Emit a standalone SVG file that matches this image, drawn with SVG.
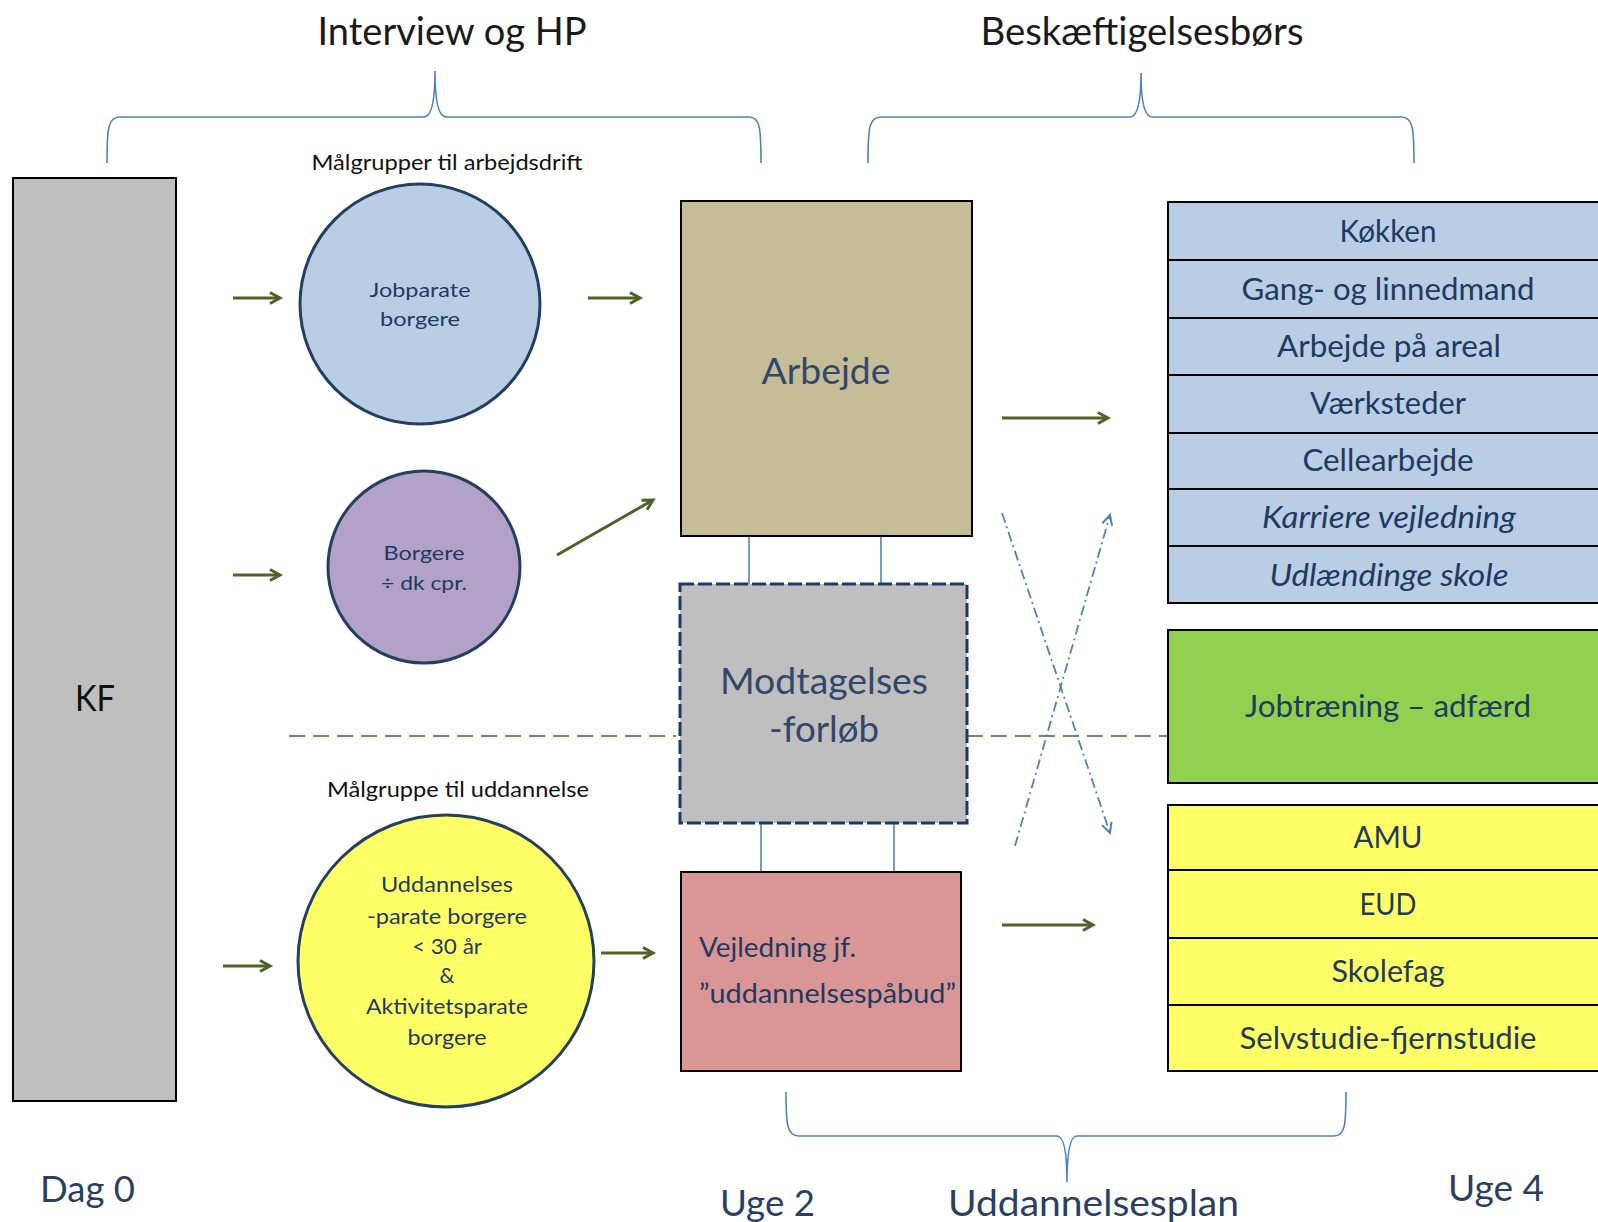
<svg xmlns="http://www.w3.org/2000/svg" width="1598" height="1222" viewBox="0 0 1598 1222">
<defs>
<style>
text{font-family:Lato,"Open Sans","Liberation Sans",sans-serif;}
.title{font-size:38px;fill:#1a1a1a;text-anchor:middle;}
.lab{font-size:21px;fill:#111;text-anchor:middle;}
.ct{font-size:20px;fill:#1f3a60;text-anchor:middle;}
.bt{font-size:36px;fill:#33476a;text-anchor:middle;}
.rt{font-size:30px;fill:#1f3a60;text-anchor:middle;}
.foot{font-size:36px;fill:#2a3f63;}
.brace{fill:none;stroke:#4f81bd;stroke-width:1.6;}
.garrow{stroke:#4f6228;stroke-width:3;fill:none;marker-end:url(#gh);}
.bline{stroke:#4f81bd;stroke-width:1.6;fill:none;}
.cross{stroke:#4f81bd;stroke-width:1.8;fill:none;stroke-dasharray:10 4 2 4;marker-end:url(#bh);}
.gdash{stroke:#4f6228;stroke-width:1.6;stroke-dasharray:16 8;fill:none;}
.box{stroke:#000;stroke-width:2;}
.circ{stroke:#243f60;stroke-width:3;}
</style>
<marker id="gh" markerUnits="userSpaceOnUse" markerWidth="16" markerHeight="16" refX="12" refY="7" orient="auto">
<path d="M2,1.5 L12,7 L2,12.5" fill="none" stroke="#4f6228" stroke-width="3"/>
</marker>
<marker id="bh" markerUnits="userSpaceOnUse" markerWidth="16" markerHeight="16" refX="12" refY="7" orient="auto">
<path d="M2,2 L12,7 L2,12" fill="none" stroke="#4f81bd" stroke-width="2"/>
</marker>
</defs>
<rect width="1598" height="1222" fill="#fff"/>

<g id="headers">
<text class="title" x="452" y="45" textLength="269" lengthAdjust="spacingAndGlyphs">Interview og HP</text>
<text class="title" x="1142" y="45" textLength="323" lengthAdjust="spacingAndGlyphs">Beskæftigelsesbørs</text>
<text class="lab" x="447" y="170" textLength="271" lengthAdjust="spacingAndGlyphs">Målgrupper til arbejdsdrift</text>
<text class="lab" x="458" y="797" textLength="262" lengthAdjust="spacingAndGlyphs">Målgruppe til uddannelse</text>
</g>

<g id="braces">
<path class="brace" d="M107,163 C107,128 108,117 120,117 L424,117 C431,117 435,102 435,71 C435,102 439,117 446,117 L749,117 C760,117 761,128 761,163"/>
<path class="brace" d="M868,163 C868,128 869,117 881,117 L1130,117 C1137,117 1141,102 1141,73 C1141,102 1145,117 1152,117 L1401,117 C1413,117 1414,128 1414,163"/>
<path class="brace" d="M786,1092 C786,1125 787,1136 799,1136 L1057,1136 C1064,1136 1067,1151 1067,1182 C1067,1151 1070,1136 1077,1136 L1334,1136 C1345,1136 1346,1125 1346,1092"/>
</g>

<g id="connectors">
<line class="gdash" x1="289" y1="736" x2="676" y2="736"/>
<line class="gdash" x1="967" y1="736" x2="1168" y2="736"/>
<line class="garrow" x1="233" y1="298" x2="280" y2="298"/>
<line class="garrow" x1="588" y1="298" x2="640" y2="298"/>
<line class="garrow" x1="233" y1="575" x2="280" y2="575"/>
<line class="garrow" x1="557" y1="555" x2="653" y2="500"/>
<line class="garrow" x1="223" y1="966" x2="270" y2="966"/>
<line class="garrow" x1="601" y1="953" x2="653" y2="953"/>
<line class="garrow" x1="1002" y1="418" x2="1108" y2="418"/>
<line class="garrow" x1="1002" y1="925" x2="1093" y2="925"/>
<line class="bline" x1="749" y1="536" x2="749" y2="584"/>
<line class="bline" x1="881" y1="536" x2="881" y2="584"/>
<line class="bline" x1="761" y1="823" x2="761" y2="872"/>
<line class="bline" x1="894" y1="823" x2="894" y2="872"/>
<line class="cross" x1="1002" y1="513" x2="1110" y2="833"/>
<line class="cross" x1="1015" y1="846" x2="1110" y2="515"/>
</g>

<g id="kf">
<rect class="box" x="13" y="178" width="163" height="923" fill="#bfbfbf"/>
<text x="95" y="711" style="font-size:36px;fill:#111;text-anchor:middle;" textLength="40" lengthAdjust="spacingAndGlyphs">KF</text>
</g>

<g id="jobparate">
<circle class="circ" cx="420" cy="304" r="120" fill="#b9cde5"/>
<text class="ct" x="420" y="297" textLength="101" lengthAdjust="spacingAndGlyphs">Jobparate</text>
<text class="ct" x="420" y="326" textLength="80" lengthAdjust="spacingAndGlyphs">borgere</text>
</g>

<g id="borgere-dk">
<circle class="circ" cx="424" cy="567" r="96" fill="#b3a2c7"/>
<text class="ct" x="424" y="560" textLength="81" lengthAdjust="spacingAndGlyphs">Borgere</text>
<text class="ct" x="424" y="590" textLength="86" lengthAdjust="spacingAndGlyphs">÷ dk cpr.</text>
</g>

<g id="uddannelsesparate">
<ellipse class="circ" cx="446" cy="961" rx="148" ry="146" fill="#ffff66"/>
<text class="ct" x="447" y="892" style="font-size:21px" textLength="132" lengthAdjust="spacingAndGlyphs">Uddannelses</text>
<text class="ct" x="447" y="924" style="font-size:21px" textLength="160" lengthAdjust="spacingAndGlyphs">-parate borgere</text>
<text class="ct" x="447" y="954" style="font-size:21px" textLength="70" lengthAdjust="spacingAndGlyphs">&lt; 30 år</text>
<text class="ct" x="447" y="983" style="font-size:21px">&amp;</text>
<text class="ct" x="447" y="1014" style="font-size:21px" textLength="162" lengthAdjust="spacingAndGlyphs">Aktivitetsparate</text>
<text class="ct" x="447" y="1045" style="font-size:21px" textLength="79" lengthAdjust="spacingAndGlyphs">borgere</text>
</g>

<g id="arbejde">
<rect class="box" x="681" y="201" width="291" height="335" fill="#c4bd97"/>
<text class="bt" x="826" y="384" textLength="129" lengthAdjust="spacingAndGlyphs">Arbejde</text>
</g>

<g id="modtagelse">
<rect x="680" y="584" width="287" height="239" fill="#bfbfbf" stroke="#1f3864" stroke-width="3" stroke-dasharray="14 4"/>
<text class="bt" x="824" y="694" textLength="208" lengthAdjust="spacingAndGlyphs">Modtagelses</text>
<text class="bt" x="824" y="742" textLength="110" lengthAdjust="spacingAndGlyphs">-forløb</text>
</g>

<g id="vejledning">
<rect class="box" x="681" y="872" width="280" height="199" fill="#d99694"/>
<text x="699" y="957" style="font-size:27px;fill:#1f3a60;" textLength="157" lengthAdjust="spacingAndGlyphs">Vejledning jf.</text>
<text x="699" y="1003" style="font-size:27px;fill:#1f3a60;" textLength="257" lengthAdjust="spacingAndGlyphs">”uddannelsespåbud”</text>
</g>

<g id="arbejdsomraader">
<rect class="box" x="1168" y="202" width="440" height="58" fill="#b9cde5"/>
<rect class="box" x="1168" y="260" width="440" height="58" fill="#b9cde5"/>
<rect class="box" x="1168" y="318" width="440" height="57" fill="#b9cde5"/>
<rect class="box" x="1168" y="375" width="440" height="58" fill="#b9cde5"/>
<rect class="box" x="1168" y="433" width="440" height="56" fill="#b9cde5"/>
<rect class="box" x="1168" y="489" width="440" height="57" fill="#b9cde5"/>
<rect class="box" x="1168" y="546" width="440" height="57" fill="#b9cde5"/>
<text class="rt" x="1388" y="242" textLength="97" lengthAdjust="spacingAndGlyphs">Køkken</text>
<text class="rt" x="1388" y="300" textLength="293" lengthAdjust="spacingAndGlyphs">Gang- og linnedmand</text>
<text class="rt" x="1389" y="357" textLength="224" lengthAdjust="spacingAndGlyphs">Arbejde på areal</text>
<text class="rt" x="1388" y="414" textLength="156" lengthAdjust="spacingAndGlyphs">Værksteder</text>
<text class="rt" x="1388" y="471" textLength="171" lengthAdjust="spacingAndGlyphs">Cellearbejde</text>
<text class="rt" x="1389" y="528" style="font-style:italic" textLength="254" lengthAdjust="spacingAndGlyphs">Karriere vejledning</text>
<text class="rt" x="1389" y="586" style="font-style:italic" textLength="239" lengthAdjust="spacingAndGlyphs">Udlændinge skole</text>
</g>

<g id="jobtraening">
<rect class="box" x="1168" y="630" width="440" height="153" fill="#92d050"/>
<text class="rt" x="1388" y="717" textLength="286" lengthAdjust="spacingAndGlyphs">Jobtræning – adfærd</text>
</g>

<g id="uddannelser">
<rect class="box" x="1168" y="805" width="440" height="65" fill="#ffff66"/>
<rect class="box" x="1168" y="870" width="440" height="68" fill="#ffff66"/>
<rect class="box" x="1168" y="938" width="440" height="67" fill="#ffff66"/>
<rect class="box" x="1168" y="1005" width="440" height="66" fill="#ffff66"/>
<text class="rt" x="1388" y="848" textLength="69" lengthAdjust="spacingAndGlyphs">AMU</text>
<text class="rt" x="1388" y="915" textLength="57" lengthAdjust="spacingAndGlyphs">EUD</text>
<text class="rt" x="1388" y="982" textLength="113" lengthAdjust="spacingAndGlyphs">Skolefag</text>
<text class="rt" x="1388" y="1049" textLength="297" lengthAdjust="spacingAndGlyphs">Selvstudie-fjernstudie</text>
</g>

<g id="timeline">
<text class="foot" x="40" y="1202" textLength="95" lengthAdjust="spacingAndGlyphs">Dag 0</text>
<text class="foot" x="720" y="1216" textLength="95" lengthAdjust="spacingAndGlyphs">Uge 2</text>
<text class="foot" x="948" y="1216" textLength="291" lengthAdjust="spacingAndGlyphs">Uddannelsesplan</text>
<text class="foot" x="1448" y="1201" textLength="96" lengthAdjust="spacingAndGlyphs">Uge 4</text>
</g>
</svg>
